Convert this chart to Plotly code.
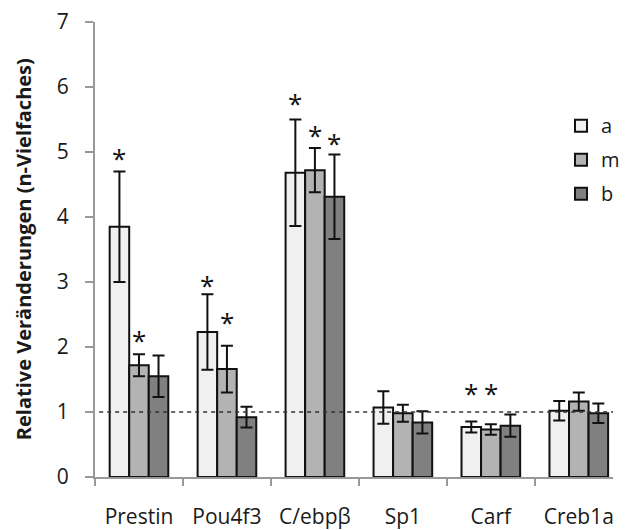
import plotly.graph_objects as go

categories = ["Prestin", "Pou4f3", "C/ebpβ", "Sp1", "Carf", "Creb1a"]
series_names = ["a", "m", "b"]
values_a = [3.85, 2.23, 4.68, 1.07, 0.77, 1.02]
values_m = [1.72, 1.66, 4.72, 0.98, 0.73, 1.16]
values_b = [1.55, 0.92, 4.31, 0.84, 0.79, 0.98]
err_a = [0.85, 0.58, 0.82, 0.25, 0.085, 0.15]
err_m = [0.17, 0.36, 0.34, 0.13, 0.08, 0.14]
err_b = [0.32, 0.16, 0.65, 0.17, 0.17, 0.15]
# significance stars: (category index, series index, y position)
star_cat = [0, 0, 1, 1, 2, 2, 2, 4, 4]
star_ser = [0, 1, 0, 1, 0, 1, 2, 0, 1]
star_y = [4.92, 2.13, 2.97, 2.40, 5.77, 5.28, 5.16, 1.31, 1.31]
y_ticks = [0, 1, 2, 3, 4, 5, 6, 7]
y_title = "Relative Veränderungen (n-Vielfaches)"

colors = ["#f0f0f0", "#b3b3b3", "#808080"]
FONT = "Open Sans"
TXT = "#1a1a1a"

fig = go.Figure()
xs = list(range(len(categories)))
for name, vals, errs, col in zip(series_names, [values_a, values_m, values_b],
                                  [err_a, err_m, err_b], colors):
    fig.add_trace(go.Bar(
        x=xs, y=vals, name=name, legendgroup=name,
        marker=dict(color=col, line=dict(color="#111111", width=2)),
        error_y=dict(type="data", array=errs, visible=True, color="#111111",
                     thickness=2, width=6),
    ))

bar_w = (1 - 1/3) / 3
for c, s, yv in zip(star_cat, star_ser, star_y):
    fig.add_annotation(x=c + (s - 1) * bar_w, y=yv, xref="x", yref="y",
                       text="*", showarrow=False, xanchor="center",
                       yanchor="middle", yshift=-1,
                       font=dict(family=FONT, size=26, color="#111111"))

fig.add_shape(type="line", xref="paper", yref="y", x0=0.008, x1=1, y0=1, y1=1,
              line=dict(color="#333333", width=1.5, dash="4px,4px"), layer="above")

fig.update_layout(
    width=625, height=530,
    margin=dict(l=95, r=0, t=22, b=53),
    paper_bgcolor="white", plot_bgcolor="white",
    barmode="group", bargap=1/3, bargroupgap=0,
    font=dict(family=FONT, color=TXT),
    showlegend=True,
    legend=dict(x=0.9, y=0.815, xanchor="left", yanchor="top",
                font=dict(family=FONT, size=20, color=TXT),
                bgcolor="rgba(0,0,0,0)", tracegroupgap=5),
    xaxis=dict(range=[-0.5, -0.5 + 530 / 90], tickmode="array", tickvals=xs,
               ticktext=categories, ticks="", showgrid=False, zeroline=False,
               showline=True, linecolor="#999999", linewidth=2,
               tickfont=dict(family=FONT, size=21, color=TXT),
               ticklabelstandoff=20,
               minor=dict(tickmode="array", tickvals=[i - 0.5 for i in range(7)],
                          ticks="outside", ticklen=7, tickcolor="#999999",
                          tickwidth=2, showgrid=False)),
    yaxis=dict(range=[0, 7], tickmode="array", tickvals=y_ticks, ticks="outside",
               ticklen=8, tickcolor="#999999", tickwidth=2, showgrid=False,
               zeroline=False, showline=True, linecolor="#999999", linewidth=2,
               tickfont=dict(family=FONT, size=21, color=TXT),
               ticklabelstandoff=12),
)
fig.add_annotation(text=y_title, xref="paper", yref="paper", x=(22 - 95) / 530,
                   y=0.5, xanchor="center", yanchor="middle", textangle=-90,
                   showarrow=False,
                   font=dict(family=FONT, size=20, color=TXT, weight="bold"))

fig.write_html("out.html")
